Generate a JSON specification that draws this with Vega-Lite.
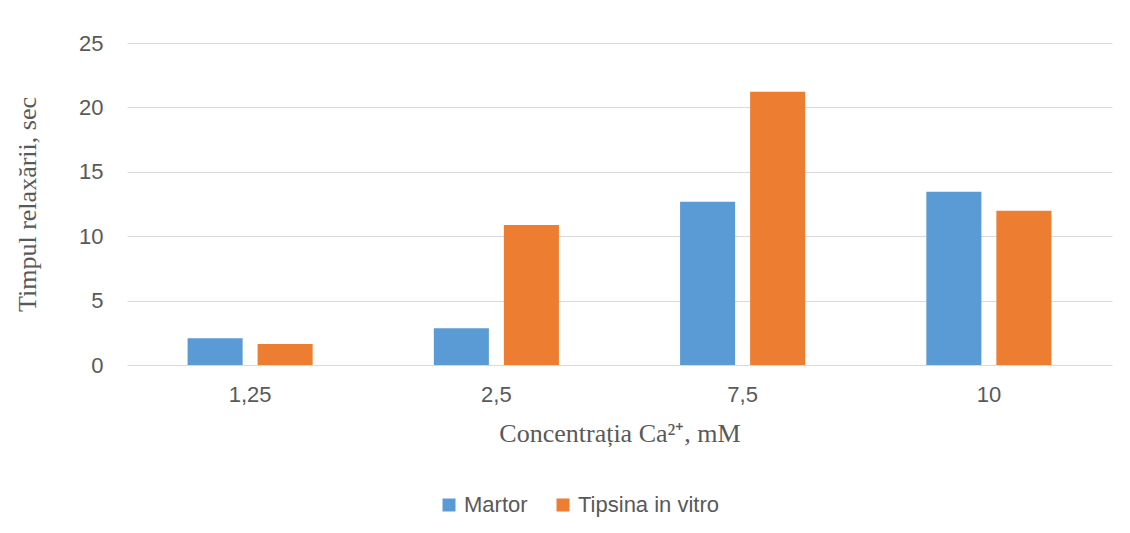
{
  "$schema": "https://vega.github.io/schema/vega-lite/v6.json",
  "autosize": {"type": "none"},
  "width": 985,
  "height": 322,
  "padding": {"left": 127, "top": 43, "right": 18, "bottom": 168},
  "background": "white",
  "data": {
    "values": [
      {"conc": "1,25", "series": "Martor", "value": 2.07},
      {"conc": "1,25", "series": "Tipsina in vitro", "value": 1.63},
      {"conc": "2,5", "series": "Martor", "value": 2.85},
      {"conc": "2,5", "series": "Tipsina in vitro", "value": 10.87},
      {"conc": "7,5", "series": "Martor", "value": 12.68},
      {"conc": "7,5", "series": "Tipsina in vitro", "value": 21.22},
      {"conc": "10", "series": "Martor", "value": 13.46},
      {"conc": "10", "series": "Tipsina in vitro", "value": 11.98}
    ]
  },
  "mark": {"type": "bar"},
  "encoding": {
    "x": {
      "field": "conc",
      "type": "nominal",
      "sort": ["1,25", "2,5", "7,5", "10"],
      "scale": {"paddingInner": 0.492, "paddingOuter": 0.246},
      "axis": {
        "title": "Concentrația Ca²⁺, mM",
        "titleFont": "Liberation Serif",
        "titleFontSize": 26,
        "titleFontWeight": "normal",
        "titleColor": "#595959",
        "titlePadding": 15,
        "labelAngle": 0,
        "labelFont": "Liberation Sans",
        "labelFontSize": 22,
        "labelColor": "#595959",
        "labelPadding": 19,
        "domain": false,
        "ticks": false
      }
    },
    "xOffset": {
      "field": "series",
      "type": "nominal",
      "sort": ["Martor", "Tipsina in vitro"],
      "scale": {"paddingInner": 0.214, "paddingOuter": 0}
    },
    "y": {
      "field": "value",
      "type": "quantitative",
      "scale": {"domain": [0, 25], "nice": false},
      "axis": {
        "values": [0, 5, 10, 15, 20, 25],
        "title": "Timpul relaxării, sec",
        "titleFont": "Liberation Serif",
        "titleFontSize": 26,
        "titleFontWeight": "normal",
        "titleColor": "#595959",
        "titlePadding": 38,
        "labelFont": "Liberation Sans",
        "labelFontSize": 22,
        "labelColor": "#595959",
        "labelPadding": 24,
        "tickSize": 0,
        "ticks": false,
        "domain": false,
        "grid": true,
        "gridColor": "#d9d9d9",
        "gridWidth": 1.2
      }
    },
    "color": {
      "field": "series",
      "type": "nominal",
      "scale": {"domain": ["Martor", "Tipsina in vitro"], "range": ["#5b9bd5", "#ed7d31"]},
      "legend": {
        "title": null,
        "orient": "none",
        "legendX": 311,
        "legendY": 451,
        "direction": "horizontal",
        "symbolType": "square",
        "symbolSize": 169,
        "symbolStrokeWidth": 0,
        "labelFont": "Liberation Sans",
        "labelFontSize": 22,
        "labelColor": "#595959",
        "labelOffset": 4,
        "columnPadding": 24,
        "padding": 0
      }
    }
  },
  "config": {"view": {"stroke": null}}
}
